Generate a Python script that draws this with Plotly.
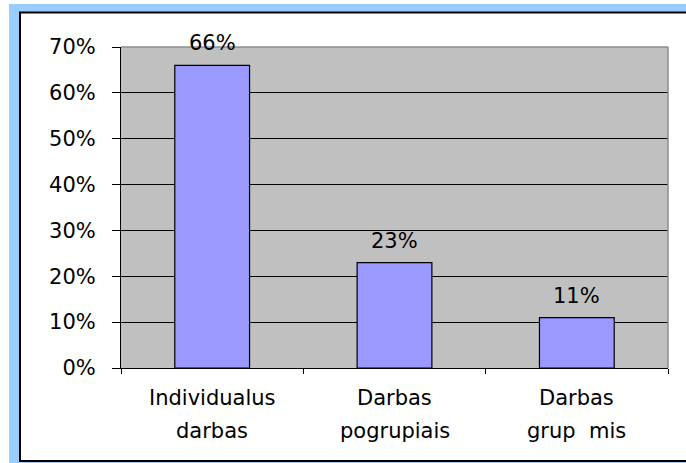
import plotly.graph_objects as go

categories = ["Individualus darbas", "Darbas pogrupiais", "Darbas grup  mis"]
label_line1 = ["Individualus", "Darbas", "Darbas"]
label_line2 = ["darbas", "pogrupiais", "grup  mis"]
values = [66, 23, 11]
y_ticks = [0, 10, 20, 30, 40, 50, 60, 70]
y_tick_text = ["0%", "10%", "20%", "30%", "40%", "50%", "60%", "70%"]

W, H = 686, 463
ML, MR, MT, MB = 121, 18, 47, 95
PW, PH = W - ML - MR, H - MT - MB
FONT = "DejaVu Sans"
FS = 21


def px_x(px):
    return (px - ML) / PW


def px_y(py):
    return (H - MB - py) / PH


fig = go.Figure()
fig.add_trace(go.Bar(
    x=categories, y=values,
    marker=dict(color="#9999FF", line=dict(color="black", width=1.2)),
    width=0.41,
    hoverinfo="skip",
))

shapes = [
    # outer blue frame
    dict(type="rect", xref="paper", yref="paper", layer="below",
         x0=px_x(9), x1=px_x(720), y0=px_y(500), y1=px_y(4),
         fillcolor="#99CCFF", line=dict(width=0)),
    # inner white panel with black border
    dict(type="rect", xref="paper", yref="paper", layer="below",
         x0=px_x(20), x1=px_x(720), y0=px_y(461), y1=px_y(12.5),
         fillcolor="white", line=dict(color="black", width=2)),
    # gray plot area
    dict(type="rect", xref="paper", yref="paper", layer="below",
         x0=0, x1=1, y0=0, y1=1,
         fillcolor="#C0C0C0", line=dict(width=0)),
    # gray plot border top and right
    dict(type="line", xref="paper", yref="paper", layer="above",
         x0=0, x1=1, y0=1, y1=1, line=dict(color="#8c8c8c", width=1.5)),
    dict(type="line", xref="paper", yref="paper", layer="above",
         x0=1, x1=1, y0=0, y1=1, line=dict(color="#8c8c8c", width=1.5)),
]

annotations = []
for c, v in zip(categories, values):
    annotations.append(dict(x=c, y=v, xref="x", yref="y", text=f"{v}%",
                            showarrow=False, yanchor="middle", yshift=22,
                            font=dict(family=FONT, size=FS, color="black")))
for c, l1, l2 in zip(categories, label_line1, label_line2):
    annotations.append(dict(x=c, y=0, xref="x", yref="paper", text=l1,
                            showarrow=False, yanchor="middle", yshift=-(398 - (H - MB)),
                            font=dict(family=FONT, size=FS, color="black")))
    annotations.append(dict(x=c, y=0, xref="x", yref="paper", text=l2,
                            showarrow=False, yanchor="middle", yshift=-(431 - (H - MB)),
                            font=dict(family=FONT, size=FS, color="black")))

fig.update_layout(
    width=W, height=H,
    margin=dict(l=ML, r=MR, t=MT, b=MB, pad=0),
    paper_bgcolor="white",
    plot_bgcolor="#C0C0C0",
    showlegend=False,
    font=dict(family=FONT, size=FS, color="black"),
    shapes=shapes,
    annotations=annotations,
    xaxis=dict(showticklabels=False, showline=True, linecolor="black", linewidth=1,
               ticks="outside", tickson="boundaries", ticklen=5, tickcolor="black",
               showgrid=False, fixedrange=True),
    yaxis=dict(range=[0, 70], tickvals=y_ticks, ticktext=y_tick_text,
               showline=True, linecolor="black", linewidth=1,
               ticks="outside", ticklen=8, tickcolor="black",
               showgrid=True, gridcolor="black", gridwidth=1,
               zeroline=False, ticklabelstandoff=12,
               tickfont=dict(family=FONT, size=FS, color="black"),
               fixedrange=True),
)

fig.write_html("out.html", config={"displayModeBar": False},
               post_script="document.body.style.margin='0';document.body.style.overflow='hidden';")
